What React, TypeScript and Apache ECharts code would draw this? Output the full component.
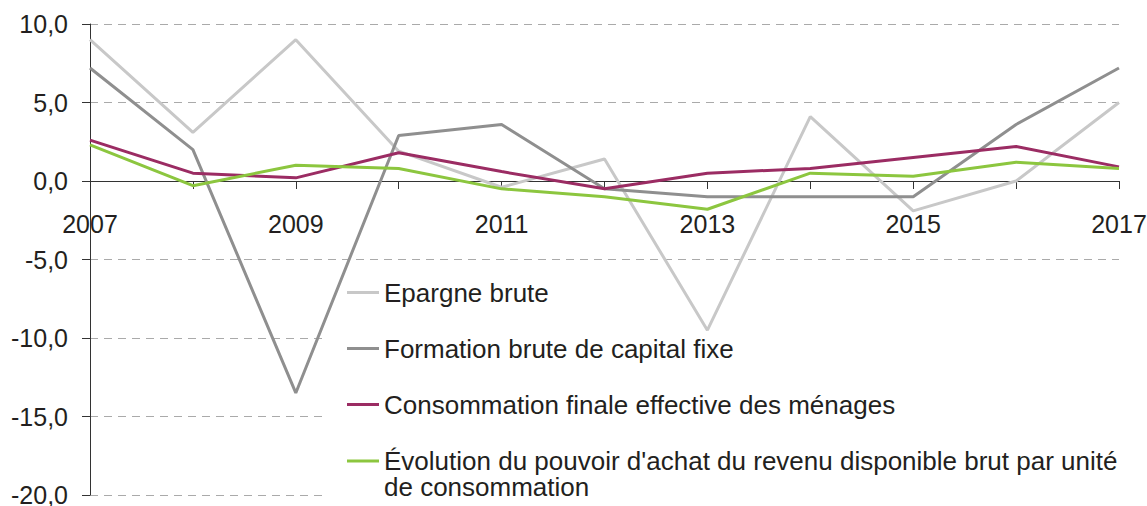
import React, { useEffect, useRef } from "react";
import * as echarts from "echarts";

const years = ["2007", "2008", "2009", "2010", "2011", "2012", "2013", "2014", "2015", "2016", "2017"];

const nameEpargne = "Epargne brute";
const nameFbcf = "Formation brute de capital fixe";
const nameConso = "Consommation finale effective des ménages";
const nameEvol = "Évolution du pouvoir d'achat du revenu disponible brut par unité de consommation";

const epargne = [9.0, 3.1, 9.0, 1.9, -0.4, 1.4, -9.5, 4.1, -1.9, 0.0, 5.0];
const fbcf = [7.2, 2.0, -13.5, 2.9, 3.6, -0.5, -1.0, -1.0, -1.0, 3.6, 7.2];
const conso = [2.6, 0.5, 0.2, 1.8, 0.6, -0.5, 0.5, 0.8, 1.5, 2.2, 0.9];
const evol = [2.3, -0.3, 1.0, 0.8, -0.5, -1.0, -1.8, 0.5, 0.3, 1.2, 0.8];

const yMin = -20;
const yMax = 10;
const yStep = 5;

const FONT = "'Liberation Sans', Arial, Helvetica, sans-serif";
const TEXT = "#231f20";

const W = 1147;
const H = 506;
const GRID_TOP = 24;
const GRID_BOTTOM = 11;

export default function App() {
  const ref = useRef<HTMLDivElement>(null);

  useEffect(() => {
    if (!ref.current) return;
    const chart = echarts.init(ref.current, null, { renderer: "svg" });
    const fmt = (v: number) => v.toFixed(1).replace(".", ",");
    const plotH = H - GRID_TOP - GRID_BOTTOM;
    // distance from the grid's bottom edge up to the value 0
    const zeroOffset = -(plotH * (0 - yMin)) / (yMax - yMin);
    const mkLine = (name: string, data: number[], color: string) => ({
      name,
      type: "line",
      data,
      symbol: "none",
      lineStyle: { color, width: 3 },
      itemStyle: { color },
      z: 2,
    });
    chart.setOption({
      animation: false,
      backgroundColor: "#ffffff",
      textStyle: { fontFamily: FONT },
      grid: {
        left: 90,
        right: 28,
        top: GRID_TOP,
        bottom: GRID_BOTTOM,
        containLabel: false,
        outerBoundsMode: "none",
      },
      graphic: [
        {
          type: "rect",
          z: 1,
          shape: { x: 327, y: 268, width: 820, height: 238 },
          style: { fill: "#ffffff" },
          silent: true,
        },
      ],
      legend: [
        {
          data: [nameEpargne, nameFbcf, nameConso],
          orient: "vertical",
          left: 347,
          top: 279.5,
          itemWidth: 32,
          itemHeight: 3,
          itemGap: 30,
          icon: "rect",
          padding: 0,
          textStyle: { fontSize: 26, lineHeight: 26, color: TEXT, fontFamily: FONT },
        },
        {
          data: [nameEvol],
          orient: "vertical",
          left: 347,
          top: 422,
          itemWidth: 32,
          itemHeight: 3,
          icon: "rect",
          padding: 0,
          formatter: () =>
            "\nÉvolution du pouvoir d'achat du revenu disponible brut par unité\nde consommation",
          textStyle: { fontSize: 26, lineHeight: 26, color: TEXT, fontFamily: FONT },
        },
      ],
      xAxis: {
        type: "category",
        data: years,
        boundaryGap: false,
        position: "bottom",
        offset: zeroOffset,
        axisLine: {
          onZero: false,
          lineStyle: { color: "#333333", width: 1 },
        },
        axisTick: { show: true, interval: 0, length: 8, lineStyle: { color: "#333333" } },
        axisLabel: { interval: 1, margin: 30, fontSize: 25, color: TEXT, fontFamily: FONT },
        splitLine: { show: false },
      },
      yAxis: {
        type: "value",
        min: yMin,
        max: yMax,
        interval: yStep,
        axisLine: { show: true, lineStyle: { color: "#333333", width: 1 } },
        axisTick: { show: true, length: 8, lineStyle: { color: "#333333" } },
        axisLabel: { formatter: fmt, margin: 22, fontSize: 25, color: TEXT, fontFamily: FONT },
        splitLine: { show: true, lineStyle: { color: "#aaaaaa", type: [8, 6], width: 1 } },
      },
      series: [
        mkLine(nameEpargne, epargne, "#c8c8c8"),
        mkLine(nameFbcf, fbcf, "#8f8f8f"),
        mkLine(nameConso, conso, "#9b2c63"),
        mkLine(nameEvol, evol, "#8cc63f"),
      ],
    });
    return () => chart.dispose();
  }, []);

  return (
    <div
      ref={ref}
      style={{ position: "fixed", left: 0, top: 0, width: W, height: H }}
    />
  );
}
